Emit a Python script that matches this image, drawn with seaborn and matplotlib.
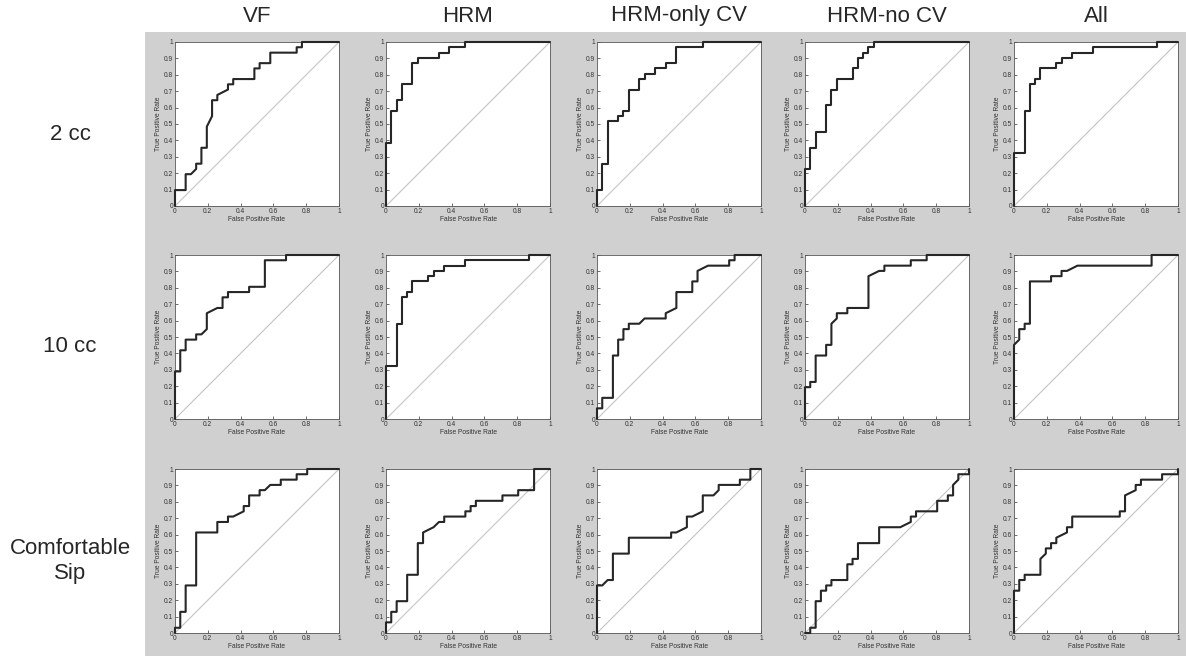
import matplotlib
matplotlib.use("Agg")
import matplotlib.pyplot as plt
from matplotlib.patches import Rectangle
from matplotlib.ticker import FuncFormatter
import pandas as pd
import seaborn as sns

# column / row headers
methods = ["VF", "HRM", "HRM-only CV", "HRM-no CV", "All"]
volumes = ["2 cc", "10 cc", "Comfortable\nSip"]

# ROC vertices (FPR, TPR)
roc_2cc_vf = [(0, 0), (0, 0.097), (0.065, 0.097), (0.065, 0.194), (0.097, 0.194), (0.129, 0.226),
              (0.129, 0.258), (0.161, 0.258), (0.161, 0.355), (0.194, 0.355), (0.194, 0.484),
              (0.226, 0.548), (0.226, 0.645), (0.258, 0.645), (0.258, 0.677), (0.323, 0.71),
              (0.323, 0.742), (0.355, 0.742), (0.355, 0.774), (0.484, 0.774), (0.484, 0.839),
              (0.516, 0.839), (0.516, 0.871), (0.581, 0.871), (0.581, 0.935), (0.742, 0.935),
              (0.742, 0.968), (0.774, 0.968), (0.774, 1), (1, 1)]
roc_2cc_hrm = [(0, 0), (0, 0.387), (0.032, 0.387), (0.032, 0.581), (0.065, 0.581), (0.065, 0.645),
               (0.097, 0.645), (0.097, 0.742), (0.161, 0.742), (0.161, 0.871), (0.194, 0.871),
               (0.194, 0.903), (0.323, 0.903), (0.323, 0.935), (0.387, 0.935), (0.387, 0.968),
               (0.484, 0.968), (0.484, 1), (1, 1)]
roc_2cc_only = [(0, 0), (0, 0.097), (0.032, 0.097), (0.032, 0.258), (0.065, 0.258), (0.065, 0.516),
                (0.129, 0.516), (0.129, 0.548), (0.161, 0.548), (0.161, 0.581), (0.194, 0.581),
                (0.194, 0.71), (0.258, 0.71), (0.258, 0.774), (0.29, 0.774), (0.29, 0.806),
                (0.355, 0.806), (0.355, 0.839), (0.419, 0.839), (0.419, 0.871), (0.484, 0.871),
                (0.484, 0.968), (0.645, 0.968), (0.645, 1), (1, 1)]
roc_2cc_nocv = [(0, 0), (0, 0.226), (0.032, 0.226), (0.032, 0.355), (0.065, 0.355), (0.065, 0.452),
                (0.129, 0.452), (0.129, 0.613), (0.161, 0.613), (0.161, 0.71), (0.194, 0.71),
                (0.194, 0.774), (0.29, 0.774), (0.29, 0.839), (0.323, 0.839), (0.323, 0.903),
                (0.355, 0.903), (0.355, 0.935), (0.387, 0.935), (0.387, 0.968), (0.419, 0.968),
                (0.419, 1), (1, 1)]
roc_2cc_all = [(0, 0), (0, 0.323), (0.065, 0.323), (0.065, 0.581), (0.097, 0.581), (0.097, 0.742),
               (0.129, 0.742), (0.129, 0.774), (0.161, 0.774), (0.161, 0.839), (0.258, 0.839),
               (0.258, 0.871), (0.29, 0.871), (0.29, 0.903), (0.355, 0.903), (0.355, 0.935),
               (0.484, 0.935), (0.484, 0.968), (0.871, 0.968), (0.871, 1), (1, 1)]

roc_10cc_vf = [(0, 0), (0, 0.29), (0.032, 0.29), (0.032, 0.419), (0.065, 0.419), (0.065, 0.484),
               (0.129, 0.484), (0.129, 0.516), (0.161, 0.516), (0.194, 0.548), (0.194, 0.645),
               (0.258, 0.677), (0.29, 0.677), (0.29, 0.742), (0.323, 0.742), (0.323, 0.774),
               (0.452, 0.774), (0.452, 0.806), (0.548, 0.806), (0.548, 0.968), (0.677, 0.968),
               (0.677, 1), (1, 1)]
roc_10cc_hrm = [(0, 0), (0, 0.323), (0.065, 0.323), (0.065, 0.581), (0.097, 0.581), (0.097, 0.742),
                (0.129, 0.742), (0.129, 0.774), (0.161, 0.774), (0.161, 0.839), (0.258, 0.839),
                (0.258, 0.871), (0.29, 0.871), (0.29, 0.903), (0.355, 0.903), (0.355, 0.935),
                (0.484, 0.935), (0.484, 0.968), (0.871, 0.968), (0.871, 1), (1, 1)]
roc_10cc_only = [(0, 0), (0, 0.065), (0.032, 0.065), (0.032, 0.129), (0.097, 0.129), (0.097, 0.387),
                 (0.129, 0.387), (0.129, 0.484), (0.161, 0.484), (0.161, 0.548), (0.194, 0.548),
                 (0.194, 0.581), (0.258, 0.581), (0.29, 0.613), (0.419, 0.613), (0.419, 0.645),
                 (0.484, 0.677), (0.484, 0.774), (0.581, 0.774), (0.581, 0.839), (0.613, 0.839),
                 (0.613, 0.903), (0.677, 0.935), (0.806, 0.935), (0.806, 0.968), (0.839, 0.968),
                 (0.839, 1), (1, 1)]
roc_10cc_nocv = [(0, 0), (0, 0.194), (0.032, 0.194), (0.032, 0.226), (0.065, 0.226), (0.065, 0.387),
                 (0.129, 0.387), (0.129, 0.452), (0.161, 0.452), (0.161, 0.581), (0.194, 0.613),
                 (0.194, 0.645), (0.258, 0.645), (0.258, 0.677), (0.387, 0.677), (0.387, 0.871),
                 (0.452, 0.903), (0.484, 0.903), (0.484, 0.935), (0.645, 0.935), (0.645, 0.968),
                 (0.742, 0.968), (0.742, 1), (1, 1)]
roc_10cc_all = [(0, 0), (0, 0.452), (0.032, 0.484), (0.032, 0.548), (0.065, 0.548), (0.065, 0.581),
                (0.097, 0.581), (0.097, 0.839), (0.226, 0.839), (0.226, 0.871), (0.29, 0.871),
                (0.29, 0.903), (0.323, 0.903), (0.387, 0.935), (0.839, 0.935), (0.839, 1), (1, 1)]

roc_sip_vf = [(0, 0), (0, 0.032), (0.032, 0.032), (0.032, 0.129), (0.065, 0.129), (0.065, 0.29),
              (0.129, 0.29), (0.129, 0.613), (0.258, 0.613), (0.258, 0.677), (0.323, 0.677),
              (0.323, 0.71), (0.355, 0.71), (0.419, 0.742), (0.419, 0.774), (0.452, 0.774),
              (0.452, 0.839), (0.516, 0.839), (0.516, 0.871), (0.548, 0.871), (0.581, 0.903),
              (0.645, 0.903), (0.645, 0.935), (0.742, 0.935), (0.742, 0.968), (0.806, 0.968),
              (0.806, 1), (1, 1)]
roc_sip_hrm = [(0, 0), (0, 0.065), (0.032, 0.065), (0.032, 0.129), (0.065, 0.129), (0.065, 0.194),
               (0.129, 0.194), (0.129, 0.355), (0.194, 0.355), (0.194, 0.548), (0.226, 0.548),
               (0.226, 0.613), (0.29, 0.645), (0.323, 0.677), (0.355, 0.677), (0.355, 0.71),
               (0.484, 0.71), (0.484, 0.742), (0.516, 0.742), (0.516, 0.774), (0.548, 0.774),
               (0.548, 0.806), (0.71, 0.806), (0.71, 0.839), (0.806, 0.839), (0.806, 0.871),
               (0.903, 0.871), (0.903, 1), (1, 1)]
roc_sip_only = [(0, 0), (0, 0.29), (0.032, 0.29), (0.065, 0.323), (0.097, 0.323), (0.097, 0.484),
                (0.194, 0.484), (0.194, 0.581), (0.452, 0.581), (0.452, 0.613), (0.484, 0.613),
                (0.548, 0.645), (0.548, 0.71), (0.581, 0.71), (0.645, 0.742), (0.645, 0.839),
                (0.71, 0.839), (0.742, 0.871), (0.742, 0.903), (0.871, 0.903), (0.871, 0.935),
                (0.935, 0.935), (0.935, 1), (1, 1)]
roc_sip_nocv = [(0, 0), (0.032, 0), (0.032, 0.032), (0.065, 0.032), (0.065, 0.194), (0.097, 0.194),
                (0.097, 0.258), (0.129, 0.258), (0.129, 0.29), (0.161, 0.29), (0.161, 0.323),
                (0.258, 0.323), (0.258, 0.419), (0.29, 0.419), (0.29, 0.452), (0.323, 0.452),
                (0.323, 0.548), (0.452, 0.548), (0.452, 0.645), (0.581, 0.645), (0.645, 0.677),
                (0.645, 0.71), (0.677, 0.71), (0.677, 0.742), (0.806, 0.742), (0.806, 0.806),
                (0.871, 0.806), (0.871, 0.839), (0.903, 0.839), (0.903, 0.903), (0.935, 0.935),
                (0.935, 0.968), (1, 0.968), (1, 1)]
roc_sip_all = [(0, 0), (0, 0.258), (0.032, 0.258), (0.032, 0.323), (0.065, 0.323), (0.065, 0.355),
               (0.161, 0.355), (0.161, 0.452), (0.194, 0.484), (0.194, 0.516), (0.226, 0.516),
               (0.226, 0.548), (0.258, 0.548), (0.258, 0.581), (0.323, 0.613), (0.323, 0.645),
               (0.355, 0.645), (0.355, 0.71), (0.645, 0.71), (0.645, 0.742), (0.677, 0.742),
               (0.677, 0.839), (0.742, 0.871), (0.742, 0.903), (0.774, 0.903), (0.774, 0.935),
               (0.903, 0.935), (0.903, 0.968), (1, 0.968), (1, 1)]

grid = [
    [roc_2cc_vf, roc_2cc_hrm, roc_2cc_only, roc_2cc_nocv, roc_2cc_all],
    [roc_10cc_vf, roc_10cc_hrm, roc_10cc_only, roc_10cc_nocv, roc_10cc_all],
    [roc_sip_vf, roc_sip_hrm, roc_sip_only, roc_sip_nocv, roc_sip_all],
]

sns.set_theme(style="white")
plt.rcParams["font.family"] = ["Liberation Sans", "DejaVu Sans"]

W, H = 1186, 656
fig = plt.figure(figsize=(W / 100, H / 100), dpi=100)
fig.patch.set_facecolor("white")

# grey panel behind the plots
fig.add_artist(Rectangle((145 / W, 0), 1 - 145 / W, 1 - 32 / H,
                         transform=fig.transFigure, facecolor="#d0d0d0",
                         edgecolor="none", zorder=0))

col_left = [175, 386, 597, 805, 1014]
row_top = [42, 255, 469]
size = 164

fmt = FuncFormatter(lambda v, p: f"{v:g}")

for r, row in enumerate(grid):
    for c, pts in enumerate(row):
        ax = fig.add_axes([col_left[c] / W, 1 - (row_top[r] + size) / H, size / W, size / H])
        ax.set_facecolor("white")
        df = pd.DataFrame(pts, columns=["fpr", "tpr"])
        sns.lineplot(x=[0, 1], y=[0, 1], ax=ax, color="#c4c4c4", linewidth=0.8)
        sns.lineplot(data=df, x="fpr", y="tpr", sort=False, estimator=None,
                     ax=ax, color="#262626", linewidth=1.5, clip_on=False, zorder=5)
        ax.set_xlim(0, 1)
        ax.set_ylim(0, 1)
        ax.set_xticks([0, 0.2, 0.4, 0.6, 0.8, 1])
        ax.set_yticks([i / 10 for i in range(11)])
        ax.xaxis.set_major_formatter(fmt)
        ax.yaxis.set_major_formatter(fmt)
        ax.tick_params(direction="in", length=2, width=0.5, labelsize=4.8,
                       pad=1.5, colors="#333333", bottom=True, left=True)
        ax.set_xlabel("False Positive Rate", fontsize=4.8, labelpad=1, color="#333333")
        ax.set_ylabel("True Positive Rate", fontsize=4.8, labelpad=1, color="#333333")
        for s in ax.spines.values():
            s.set_color("#555555")
            s.set_linewidth(0.6)
        if r == 0:
            fig.text((col_left[c] + size / 2) / W, 1 - 16 / H, methods[c],
                     ha="center", va="center", fontsize=16)

for r, lab in enumerate(volumes):
    fig.text(70 / W, 1 - (row_top[r] + size / 2 + 10) / H, lab,
             ha="center", va="center", fontsize=16, linespacing=1.3)

fig.savefig("out.png", dpi=100)
